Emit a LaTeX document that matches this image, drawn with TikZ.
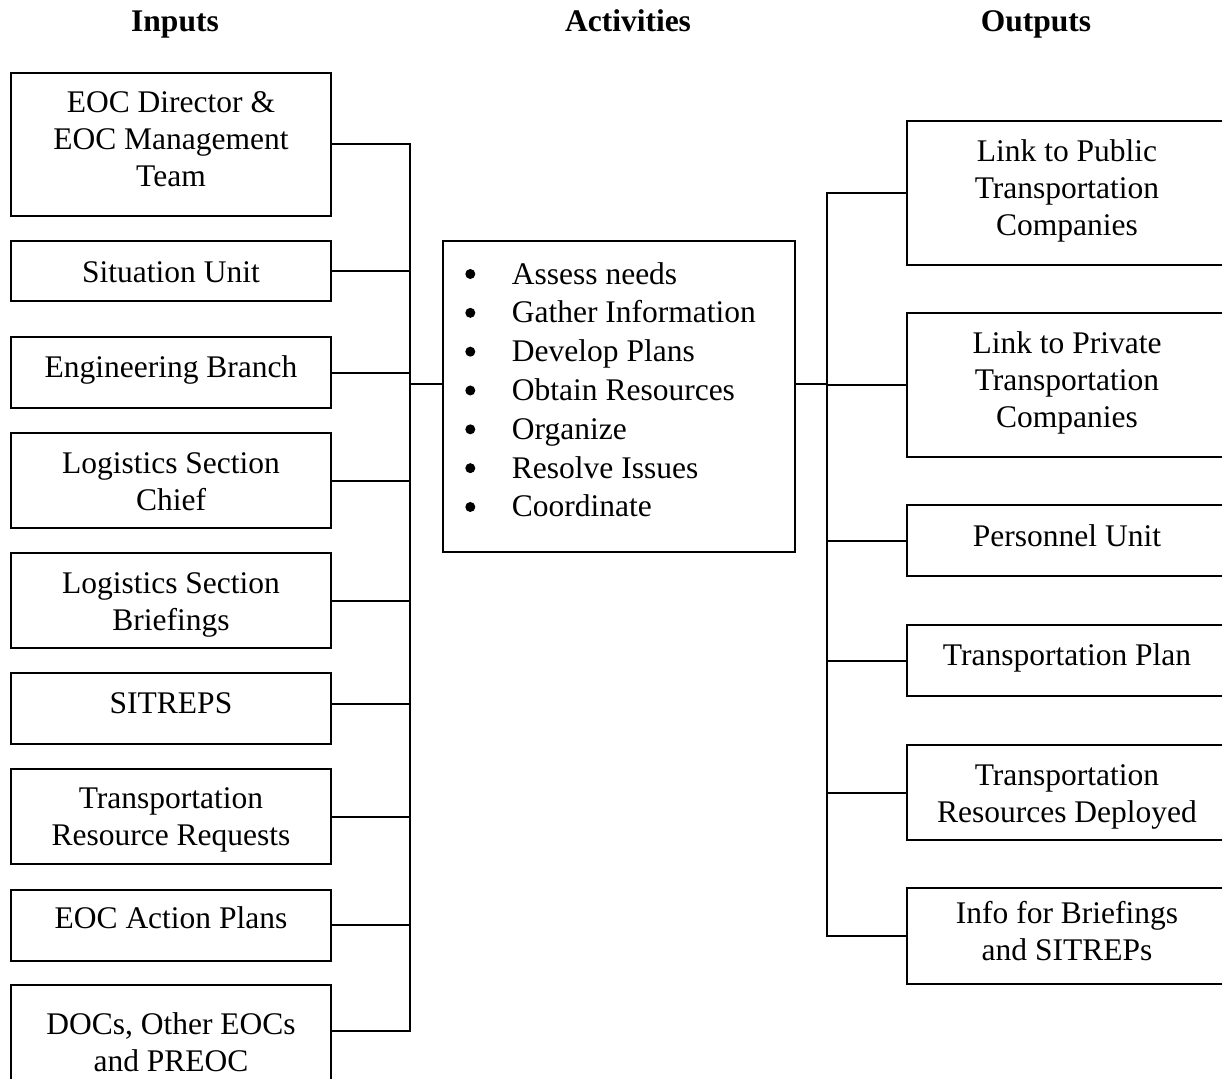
\documentclass[tikz,border=0pt]{standalone}
\usepackage{fontspec}
\setmainfont{Liberation Serif}
\newcommand\boxtxt[1]{\begin{tabular}[t]{@{}c@{}}#1\end{tabular}}
\begin{document}
\begin{tikzpicture}[x=1pt,y=-1pt,
  every node/.style={font=\fontsize{31.5}{37}\selectfont},
  box/.style={draw, line width=2pt, minimum width=320pt, inner sep=0pt},
  txt/.style={anchor=base, inner sep=0pt},
  head/.style={font=\fontsize{31.5}{37}\selectfont\bfseries, anchor=base, inner sep=0pt},
  wire/.style={line width=2pt, line cap=rect}]
\useasboundingbox (0,0) rectangle (1222,1078);
\clip (0,0) rectangle (1222,1078);

% headers
\node[head] (hin) at (175,32) {Inputs};
\node[head] (hact) at (628,32) {Activities};
\node[head] (hout) at (1036,32) {Outputs};

% inputs
\node[box, minimum height=143pt] (in1) at (171,144.5) {};
\node[box, minimum height=60pt]  (in2) at (171,271) {};
\node[box, minimum height=71pt]  (in3) at (171,372.5) {};
\node[box, minimum height=95pt]  (in4) at (171,480.5) {};
\node[box, minimum height=95pt]  (in5) at (171,600.5) {};
\node[box, minimum height=71pt]  (in6) at (171,708.5) {};
\node[box, minimum height=95pt]  (in7) at (171,816.5) {};
\node[box, minimum height=71pt]  (in8) at (171,925) {};
\node[box, minimum height=114pt] (in9) at (171,1042) {};

\node[txt] (in1t) at (171,113)    {\boxtxt{EOC Director \&\\EOC Management\\Team}};
\node[txt] (in2t) at (171,282)    {\boxtxt{Situation Unit}};
\node[txt] (in3t) at (171,377.5)  {\boxtxt{Engineering Branch}};
\node[txt] (in4t) at (171,473)    {\boxtxt{Logistics Section\\Chief}};
\node[txt] (in5t) at (171,593)    {\boxtxt{Logistics Section\\Briefings}};
\node[txt] (in6t) at (171,713.3)  {\boxtxt{SITREPS}};
\node[txt] (in7t) at (171,808.3)  {\boxtxt{Transportation\\Resource Requests}};
\node[txt] (in8t) at (171,928.3)  {\boxtxt{EOC Action Plans}};
\node[txt] (in9t) at (171,1034)   {\boxtxt{DOCs, Other EOCs\\and PREOC}};

% activities
\node[draw, line width=2pt, minimum width=352pt, minimum height=311pt, inner sep=0pt] (act) at (619,396.5) {};
\node[anchor=base west, inner sep=0pt] (actlist) at (511.7,284) {\fontsize{31.5}{38.83}\selectfont
  \begin{tabular}[t]{@{}l@{}}
  Assess needs\\
  Gather Information\\
  Develop Plans\\
  Obtain Resources\\
  Organize\\
  Resolve Issues\\
  Coordinate
  \end{tabular}};
\foreach \k in {0,...,6} \fill (470.3,{274+38.83*\k}) circle (5pt);

% outputs
\node[box, minimum height=144pt] (out1) at (1067,193) {};
\node[box, minimum height=144pt] (out2) at (1067,385) {};
\node[box, minimum height=71pt]  (out3) at (1067,540.5) {};
\node[box, minimum height=71pt]  (out4) at (1067,660.5) {};
\node[box, minimum height=95pt]  (out5) at (1067,792.5) {};
\node[box, minimum height=96pt]  (out6) at (1067,936) {};

\node[txt] (out1t) at (1067,161)   {\boxtxt{Link to Public\\Transportation\\Companies}};
\node[txt] (out2t) at (1067,353)   {\boxtxt{Link to Private\\Transportation\\Companies}};
\node[txt] (out3t) at (1067,546.5) {\boxtxt{Personnel Unit}};
\node[txt] (out4t) at (1067,665.5) {\boxtxt{Transportation Plan}};
\node[txt] (out5t) at (1067,785)   {\boxtxt{Transportation\\Resources Deployed}};
\node[txt] (out6t) at (1067,923.5) {\boxtxt{Info for Briefings\\and SITREPs}};

% left connectors
\coordinate (tl) at (410,384);
\foreach \i in {1,2,3,4,5,7,8} \draw[wire] (in\i.east) -- (in\i.east -| tl);
\coordinate (in6c) at ([yshift=4.5pt]in6.east);
\draw[wire] (in6c) -- (in6c -| tl);
\coordinate (in9c) at ([yshift=11pt]in9.east);
\draw[wire] (in9c) -- (in9c -| tl);
\draw[wire] (in1.east -| tl) -- (in9c -| tl);
\draw[wire] (tl) -- (tl -| act.west);

% right connectors
\coordinate (tr) at (827,384);
\foreach \i in {1,...,6} \draw[wire] (out\i.west) -- (out\i.west -| tr);
\draw[wire] (out1.west -| tr) -- (out6.west -| tr);
\draw[wire] (tr -| act.east) -- (tr);
\end{tikzpicture}
\end{document}
